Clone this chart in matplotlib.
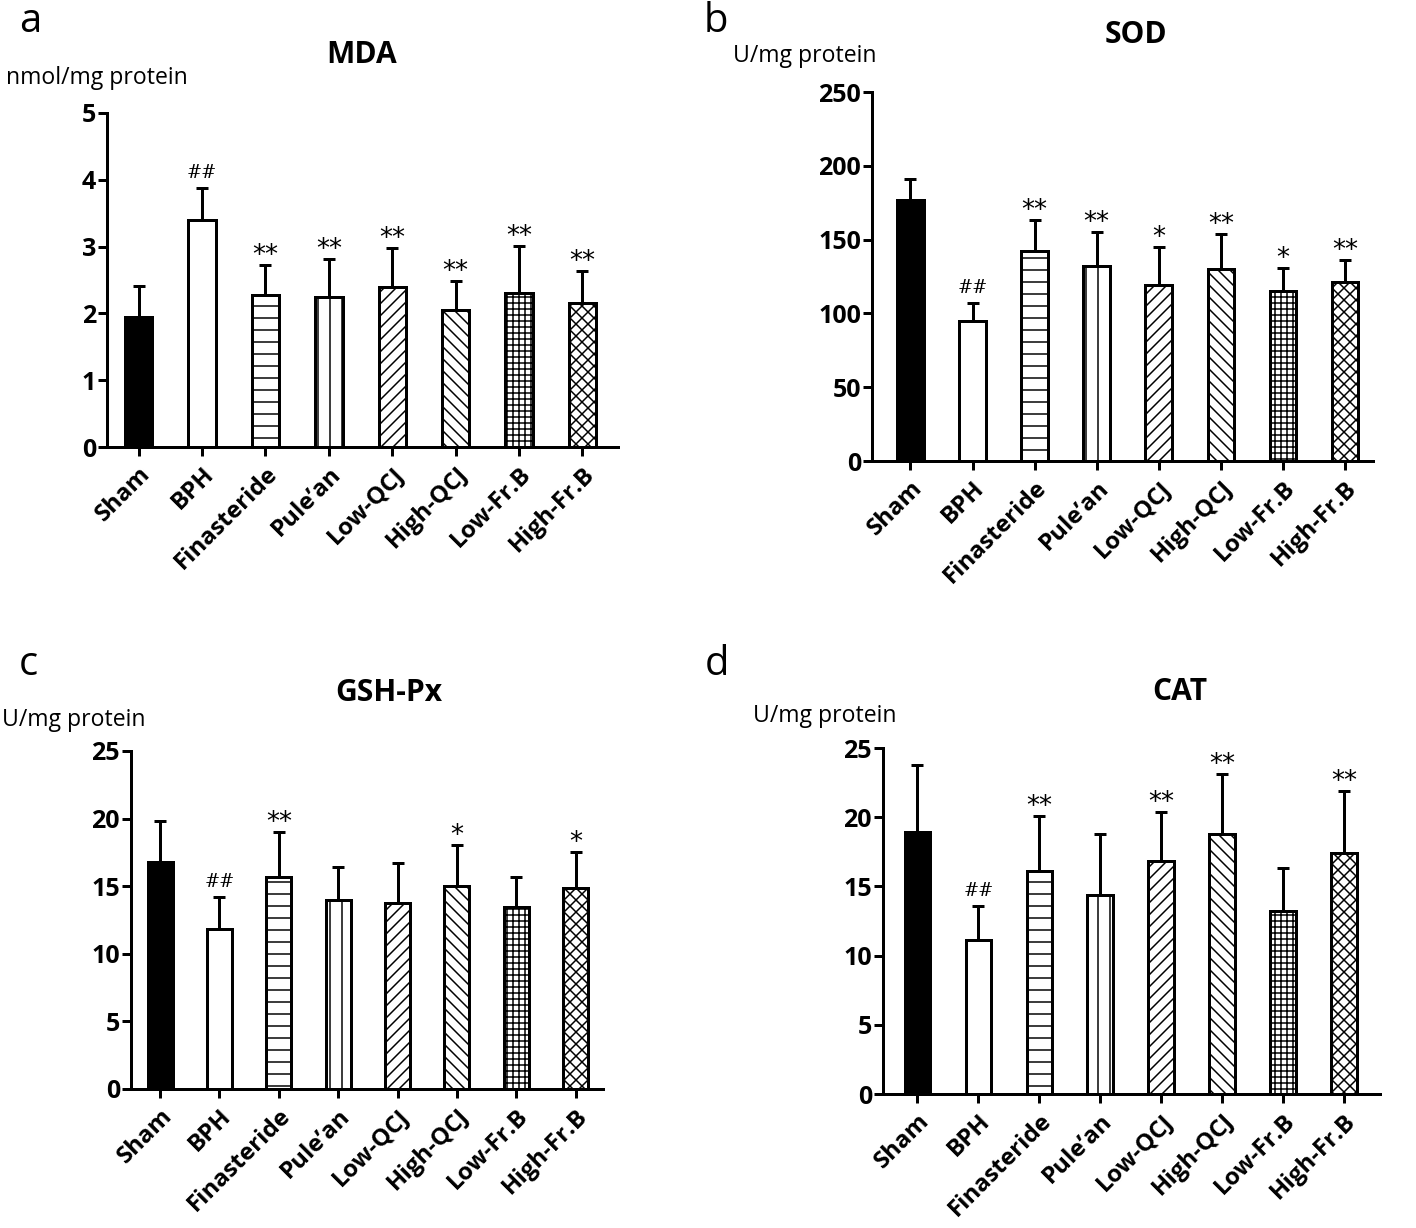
import matplotlib
matplotlib.use("Agg")
import matplotlib.pyplot as plt
import numpy as np

groups = ["Sham", "BPH", "Finasteride", "Pule\u2019an", "Low-QCJ", "High-QCJ", "Low-Fr.B", "High-Fr.B"]

mda_mean = [1.95, 3.40, 2.28, 2.25, 2.40, 2.05, 2.30, 2.16]
mda_sd = [0.46, 0.47, 0.45, 0.57, 0.58, 0.44, 0.71, 0.47]
mda_sig = ["", "##", "**", "**", "**", "**", "**", "**"]

sod_mean = [177, 95, 142, 132, 119, 130, 115, 121]
sod_sd = [14, 12, 21, 23, 26, 24, 16, 15]
sod_sig = ["", "##", "**", "**", "*", "**", "*", "**"]

gsh_mean = [16.8, 11.8, 15.7, 14.0, 13.75, 15.05, 13.45, 14.85]
gsh_sd = [3.0, 2.4, 3.3, 2.45, 2.95, 3.0, 2.2, 2.65]
gsh_sig = ["", "##", "**", "", "", "*", "", "*"]

cat_mean = [18.9, 11.1, 16.1, 14.4, 16.85, 18.8, 13.25, 17.4]
cat_sd = [4.9, 2.5, 4.0, 4.4, 3.55, 4.3, 3.05, 4.5]
cat_sig = ["", "##", "**", "", "**", "**", "", "**"]

hatches = [None, None, "-", "|", "//", "\\\\", "++", "xx"]
faces = ["black"] + ["white"] * 7

plt.rcParams["hatch.linewidth"] = 1.5
DPI = 72
W, H = 1416, 1228
fig = plt.figure(figsize=(W / DPI, H / DPI), dpi=DPI)

TICKFONT = "Open Sans"


def px_axes(left, right, top, bottom):
    return fig.add_axes([left / W, 1 - bottom / H, (right - left) / W, (bottom - top) / H])


def panel(box, xlim, means, sds, sigs, ymax, ystep, width):
    ax = px_axes(*box)
    x = np.arange(len(groups))
    bars = ax.bar(x, means, width=width, color=faces, edgecolor="black",
                  linewidth=3, zorder=2)
    for b, h in zip(bars, hatches):
        if h:
            b.set_hatch(h)
    ax.errorbar(x, means, yerr=[np.zeros(len(sds)), sds], fmt="none",
                ecolor="black", elinewidth=3, capsize=6, capthick=3, zorder=1)
    for xi, m, s, sg in zip(x, means, sds, sigs):
        if not sg:
            continue
        if sg.startswith("#"):
            ax.annotate(sg, (xi, m + s), xytext=(0, 6), textcoords="offset points",
                        ha="center", va="bottom", fontsize=18, family="DejaVu Serif")
        else:
            ax.annotate(sg, (xi, m + s), xytext=(0, -4), textcoords="offset points",
                        ha="center", va="bottom", fontsize=26, family="DejaVu Sans")
    ax.set_xlim(*xlim)
    ax.set_ylim(0, ymax)
    ax.set_yticks(np.arange(0, ymax + ystep / 2, ystep))
    ax.set_xticks(x)
    ax.set_xticklabels(groups, rotation=45, ha="right", rotation_mode="anchor",
                       fontsize=24, fontweight="bold", family=TICKFONT)
    for lab in ax.get_yticklabels():
        lab.set_fontsize(25)
        lab.set_fontweight("bold")
        lab.set_family(TICKFONT)
    ax.spines["top"].set_visible(False)
    ax.spines["right"].set_visible(False)
    ax.spines["left"].set_linewidth(3)
    ax.spines["bottom"].set_linewidth(3)
    ax.tick_params(axis="both", width=3, length=9, direction="out")
    ax.tick_params(axis="y", pad=2)
    ax.tick_params(axis="x", pad=6)
    return ax


panel((107, 618, 113, 447), (-0.5, 7.56), mda_mean, mda_sd, mda_sig, 5, 1, 0.43)
panel((872, 1373, 92, 461), (-0.62, 7.45), sod_mean, sod_sd, sod_sig, 250, 50, 0.43)
panel((131, 603, 751, 1089), (-0.49, 7.46), gsh_mean, gsh_sd, gsh_sig, 25, 5, 0.42)
panel((883, 1380, 748, 1094), (-0.565, 7.59), cat_mean, cat_sd, cat_sig, 25, 5, 0.42)


# panel letters, titles and unit labels
def ftext(x, y, s, **kw):
    fig.text(x / W, 1 - y / H, s, **kw)


for x, y, s in [(30, 22, "a"), (716, 22, "b"), (28, 665, "c"), (717, 665, "d")]:
    ftext(x, y, s, fontsize=40, ha="center", va="center", family=TICKFONT)

for x, y, s in [(362, 55, "MDA"), (1136, 35, "SOD"), (389, 693, "GSH-Px"), (1180, 692, "CAT")]:
    ftext(x, y, s, fontsize=30, fontweight="bold", ha="center", va="center", family=TICKFONT)

for x, y, s in [(6, 78, "nmol/mg protein"), (733, 56, "U/mg protein"),
                (2, 720, "U/mg protein"), (753, 716, "U/mg protein")]:
    ftext(x, y, s, fontsize=23, ha="left", va="center", family=TICKFONT)

fig.savefig("out.png", dpi=DPI)
